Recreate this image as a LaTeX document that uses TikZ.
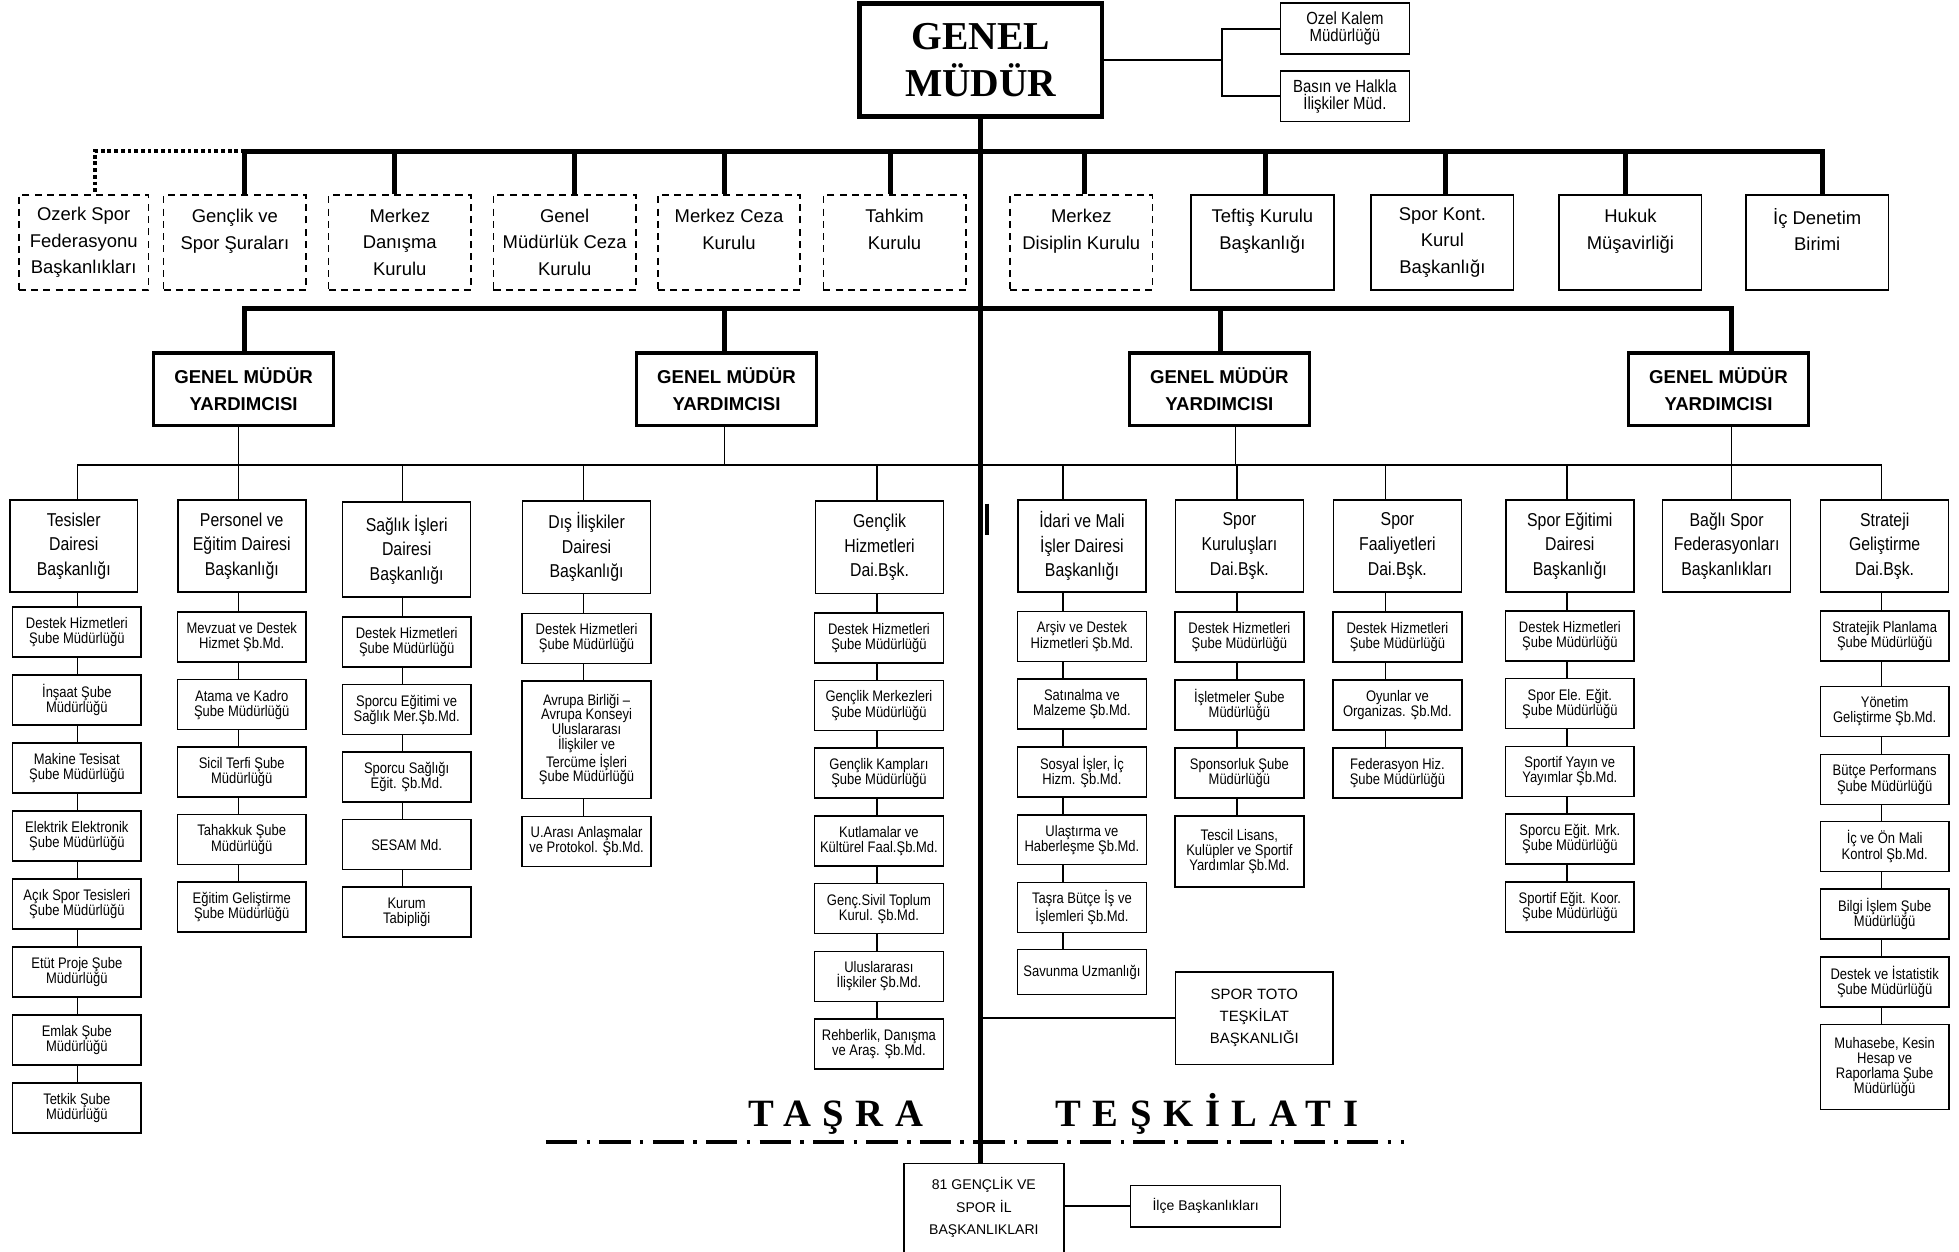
\documentclass[tikz,border=0pt]{standalone}
\usepackage{fontspec}
\setmainfont{Liberation Sans}
\newfontfamily\narrowfont{Liberation Sans}[FakeStretch=0.85]
\newfontfamily\headfont{Liberation Serif}
\newfontfamily\spacedfont{Liberation Serif}[LetterSpace=30]
\usetikzlibrary{backgrounds}
\tikzset{
  box/.style={draw, fill=white, line width=0.9pt, align=center, inner sep=1pt},
  kurul/.style={box, font=\fontsize{10.5}{15}\selectfont, minimum width=2.85cm, minimum height=1.9cm},
  kuruldash/.style={kurul, dash pattern=on 4pt off 3pt},
  dept/.style={box, font=\narrowfont\fontsize{10.6}{14}\selectfont, minimum width=2.56cm, minimum height=1.85cm},
  subbox/.style={box, font=\narrowfont\fontsize{8.7}{8.6}\selectfont, minimum width=2.575cm, minimum height=1cm},
  office/.style={box, font=\narrowfont\fontsize{10}{9.5}\selectfont, minimum width=2.575cm, minimum height=1.02cm},
  gmybox/.style={box, line width=2.1pt, font=\bfseries\fontsize{10.6}{15.6}\selectfont, minimum width=3.6cm, minimum height=1.45cm},
  bus/.style={line width=2.8pt},
  link/.style={line width=0.9pt},
}
\begin{document}
\begin{tikzpicture}[x=0.025cm, y=-0.025cm]
\useasboundingbox (0,0) rectangle (1568,1002);

% genel mudur
\node[box, line width=2.8pt, minimum width=4.85cm, minimum height=2.25cm,
      font=\headfont\bfseries\fontsize{22.5}{27}\selectfont] (gm) at (785,48) {GENEL\\MÜDÜR};
\node[office] (ozel) at (1076.5,23) {Ozel Kalem\\Müdürlüğü};
\node[office] (basin) at (1076.5,77) {Basın ve Halkla\\İlişkiler Müd.};

% kurullar
\node[kuruldash, minimum width=2.6cm] (ozerk) at (67,194) {Ozerk Spor\\Federasyonu\\Başkanlıkları};
\foreach \n/\x/\lbl in {sura/188/{Gençlik ve\\Spor Şuraları\\\mbox{}},
    danisma/320/{Merkez\\Danışma\\Kurulu}, gmceza/452/{Genel\\Müdürlük Ceza\\Kurulu},
    mceza/583.5/{Merkez Ceza\\Kurulu\\\mbox{}}, tahkim/716/{Tahkim\\Kurulu\\\mbox{}},
    disiplin/865.5/{Merkez\\Disiplin Kurulu\\\mbox{}}}
  \node[kuruldash] (\n) at (\x,194) {\lbl};
\foreach \n/\x/\lbl in {teftis/1010.5/{Teftiş Kurulu\\Başkanlığı\\\mbox{}},
    sporkont/1154.5/{Spor Kont.\\Kurul\\Başkanlığı}, hukuk/1305/{Hukuk\\Müşavirliği\\\mbox{}},
    icdenetim/1454.5/{İç Denetim\\Birimi\\\mbox{}}}
  \node[kurul] (\n) at (\x,194) {\lbl};

% yardimcilar
\foreach \i/\x in {1/195, 2/581.5, 3/976, 4/1375.5}
  \node[gmybox] (gmy\i) at (\x,311.5) {GENEL MÜDÜR\\YARDIMCISI};

% daireler
\node[dept] (tes) at (59,437) {Tesisler\\Dairesi\\Başkanlığı};
\node[dept] (per) at (193.5,437) {Personel ve\\Eğitim Dairesi\\Başkanlığı};
\node[dept, minimum height=1.9cm] (sag) at (325.5,440) {Sağlık İşleri\\Dairesi\\Başkanlığı};
\node[dept] (dis) at (469.5,438) {Dış İlişkiler\\Dairesi\\Başkanlığı};
\node[dept] (gen) at (704,438) {Gençlik\\Hizmetleri\\Dai.Bşk.};
\node[dept] (idr) at (866,437) {İdari ve Mali\\İşler Dairesi\\Başkanlığı};
\node[dept] (skr) at (992,437) {Spor\\Kuruluşları\\Dai.Bşk.};
\node[dept] (sfa) at (1118.5,437) {Spor\\Faaliyetleri\\Dai.Bşk.};
\node[dept] (seg) at (1256.5,437) {Spor Eğitimi\\Dairesi\\Başkanlığı};
\node[dept] (bag) at (1382,437) {Bağlı Spor\\Federasyonları\\Başkanlıkları};
\node[dept] (str) at (1508.5,437) {Strateji\\Geliştirme\\Dai.Bşk.};

% sube mudurlukleri
\foreach \lbl [count=\i from 0] in {{Destek Hizmetleri\\Şube Müdürlüğü}, {İnşaat Şube\\Müdürlüğü},
    {Makine Tesisat\\Şube Müdürlüğü}, {Elektrik Elektronik\\Şube Müdürlüğü},
    {Açık Spor Tesisleri\\Şube Müdürlüğü}, {Etüt Proje Şube\\Müdürlüğü},
    {Emlak Şube\\Müdürlüğü}, {Tetkik Şube\\Müdürlüğü}}
  \node[subbox] (tes\i) at ({61.5},{506+54.4*\i}) {\lbl};
\foreach \lbl [count=\i from 0] in {{Mevzuat ve Destek\\Hizmet Şb.Md.}, {Atama ve Kadro\\Şube Müdürlüğü},
    {Sicil Terfi Şube\\Müdürlüğü}, {Tahakkuk Şube\\Müdürlüğü}, {Eğitim Geliştirme\\Şube Müdürlüğü}}
  \node[subbox] (per\i) at ({193.5},{510+54*\i}) {\lbl};
\foreach \lbl [count=\i from 0] in {{Destek Hizmetleri\\Şube Müdürlüğü}, {Sporcu Eğitimi ve\\Sağlık Mer.Şb.Md.},
    {Sporcu Sağlığı\\Eğit. Şb.Md.}, {SESAM Md.}, {Kurum\\Tabipliği}}
  \node[subbox] (sag\i) at ({325.5},{514+54*\i}) {\lbl};
\node[subbox] (dis0) at (469.5,511) {Destek Hizmetleri\\Şube Müdürlüğü};
\node[subbox, minimum height=2.35cm, font=\narrowfont\fontsize{8.7}{8.3}\selectfont] (dis1) at (469.5,592)
  {Avrupa Birliği –\\Avrupa Konseyi\\Uluslararası\\İlişkiler ve\\Tercüme İşleri\\Şube Müdürlüğü};
\node[subbox] (dis2) at (469.5,673.5) {U.Arası Anlaşmalar\\ve Protokol. Şb.Md.};
\foreach \lbl [count=\i from 0] in {{Destek Hizmetleri\\Şube Müdürlüğü}, {Gençlik Merkezleri\\Şube Müdürlüğü},
    {Gençlik Kampları\\Şube Müdürlüğü}, {Kutlamalar ve\\Kültürel Faal.Şb.Md.},
    {Genç.Sivil Toplum\\Kurul. Şb.Md.}, {Uluslararası\\İlişkiler Şb.Md.}, {Rehberlik, Danışma\\ve Araş. Şb.Md.}}
  \node[subbox] (gen\i) at ({703.5},{510.5+54.2*\i}) {\lbl};
\foreach \lbl [count=\i from 0] in {{Arşiv ve Destek\\Hizmetleri Şb.Md.}, {Satınalma ve\\Malzeme Şb.Md.},
    {Sosyal İşler, İç\\Hizm. Şb.Md.}, {Ulaştırma ve\\Haberleşme Şb.Md.}, {Taşra Bütçe İş ve\\İşlemleri Şb.Md.}}
  \node[subbox] (idr\i) at ({866},{509.5+54.2*\i}) {\lbl};
\node[subbox, minimum height=0.9cm] (idr5) at (866,778) {Savunma Uzmanlığı};
\foreach \lbl [count=\i from 0] in {{Destek Hizmetleri\\Şube Müdürlüğü}, {İşletmeler Şube\\Müdürlüğü},
    {Sponsorluk Şube\\Müdürlüğü}}
  \node[subbox] (skr\i) at ({992},{510+54.3*\i}) {\lbl};
\node[subbox, minimum height=1.43cm] (skr3) at (992,681.5) {Tescil Lisans,\\Kulüpler ve Sportif\\Yardımlar Şb.Md.};
\foreach \lbl [count=\i from 0] in {{Destek Hizmetleri\\Şube Müdürlüğü}, {Oyunlar ve\\Organizas. Şb.Md.},
    {Federasyon Hiz.\\Şube Müdürlüğü}}
  \node[subbox] (sfa\i) at ({1118.5},{510+54.3*\i}) {\lbl};
\foreach \lbl [count=\i from 0] in {{Destek Hizmetleri\\Şube Müdürlüğü}, {Spor Ele. Eğit.\\Şube Müdürlüğü},
    {Sportif Yayın ve\\Yayımlar Şb.Md.}, {Sporcu Eğit. Mrk.\\Şube Müdürlüğü}, {Sportif Eğit. Koor.\\Şube Müdürlüğü}}
  \node[subbox] (seg\i) at ({1256.5},{509+54.2*\i}) {\lbl};
\foreach \lbl/\y [count=\i from 0] in {{Stratejik Planlama\\Şube Müdürlüğü}/509, {Yönetim\\Geliştirme Şb.Md.}/569.5,
    {Bütçe Performans\\Şube Müdürlüğü}/624, {İç ve Ön Mali\\Kontrol Şb.Md.}/677.5,
    {Bilgi İşlem Şube\\Müdürlüğü}/731.5, {Destek ve İstatistik\\Şube Müdürlüğü}/786}
  \node[subbox] (str\i) at (1508.5,\y) {\lbl};
\node[subbox, minimum height=1.7cm] (str6) at (1508.5,854) {Muhasebe, Kesin\\Hesap ve\\Raporlama Şube\\Müdürlüğü};

% spor toto, tasra
\node[box, font=\fontsize{8.5}{12.5}\selectfont, minimum width=3.15cm, minimum height=1.85cm] (toto) at (1004,815)
  {SPOR TOTO\\TEŞKİLAT\\BAŞKANLIĞI};
\node[box, draw=none, font=\fontsize{8}{13}\selectfont, minimum width=3.175cm, minimum height=1.725cm] (il) at (787.5,966.5)
  {81 GENÇLİK VE\\SPOR İL\\BAŞKANLIKLARI};
\draw[link] (il.south west) ++(0,12) |- (il.north east) -- ++(0,81);
\node[box, font=\fontsize{8}{10}\selectfont, minimum width=3cm, minimum height=0.825cm] (ilce) at (965,965.5) {İlçe Başkanlıkları};
\node[anchor=base, font=\spacedfont\bfseries\fontsize{22}{22}\selectfont] (tasra) at (669,902) {TAŞRA};
\node[anchor=base, font=\spacedfont\bfseries\fontsize{22}{22}\selectfont] (teskilat) at (966,902) {TEŞKİLATI};
\draw[line width=1.9pt, dash pattern=on 17.8pt off 5.3pt on 2pt off 5.3pt] (437,914) -- (1124,914);

% connectors
\coordinate (gmr) at (978,48);
\draw[link] (gm.east) -- (gmr);
\draw[link] (ozel.west) -| (gmr) |- (basin.west);
\draw[bus] (gm.south) -- (gm.south |- il.north);
\foreach \n/\x in {sura/196, danisma/316, gmceza/460, mceza/580, tahkim/713, disiplin/868,
    teftis/1013, sporkont/1157, hukuk/1301, icdenetim/1459}
  \coordinate (t\n) at (\x,121);
\draw[bus] (tsura |- sura.north) -- (tsura) -- (ticdenetim) -- (ticdenetim |- icdenetim.north);
\foreach \n in {danisma, gmceza, mceza, tahkim, disiplin, teftis, sporkont, hukuk}
  \draw[bus] (t\n) -- (t\n |- \n.north);
\coordinate (tozerk) at (76,121);
\draw[bus, line width=2.3pt, dash pattern=on 2.2pt off 1.6pt] (tsura) -- (tozerk) -- (tozerk |- ozerk.north);

\foreach \i/\x in {1/196, 2/580, 3/977, 4/1386}
  \coordinate (g\i) at (\x,247);
\draw[bus] (g1 |- gmy1.north) -- (g1) -- (g4) -- (g4 |- gmy4.north);
\draw[bus] (g2) -- (g2 |- gmy2.north);
\draw[bus] (g3) -- (g3 |- gmy3.north);
\foreach \i/\x in {1/191, 2/580, 3/989, 4/1386}{
  \coordinate (h\i) at (\x,372);
  \draw[link] (gmy\i.south -| h\i) -- (h\i);
}
\foreach \c/\x in {tes/62, per/191, sag/322, dis/467, gen/702, idr/851, skr/990, sfa/1109,
    seg/1254, bag/1386, str/1506}
  \coordinate (c\c) at (\x,372);
\draw[link] (ctes) -- (cstr);
\begin{scope}[on background layer]
  \foreach \c/\last in {tes/tes7, per/per4, sag/sag4, dis/dis2, gen/gen6, idr/idr5, skr/skr3,
      sfa/sfa2, seg/seg4, bag/bag, str/str6}
    \draw[link] (c\c) -- (c\c |- \last.north);
\end{scope}
\draw[link] (gm.south |- toto.west) -- (toto.west);
\draw[link] (il.east |- ilce.west) -- (ilce.west);
\draw[line width=2pt] (790,403) -- (790,428);
\end{tikzpicture}
\end{document}
